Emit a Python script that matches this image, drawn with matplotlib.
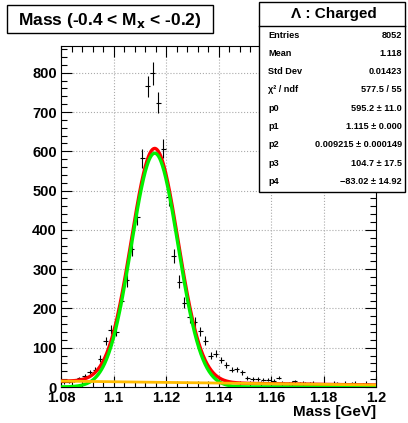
import matplotlib
matplotlib.use("Agg")
import matplotlib.pyplot as plt
from matplotlib.patches import Rectangle
from matplotlib.ticker import MultipleLocator, FormatStrFormatter
import numpy as np

# histogram: 60 bins from 1.08 to 1.2 GeV
bin_lo, bin_hi, n_bins = 1.08, 1.2, 60
counts = [12, 14, 17, 22, 28, 38, 44, 72, 117, 146,
          141, 220, 272, 352, 432, 582, 765, 798, 724, 607,
          483, 333, 268, 215, 177, 166, 142, 118, 79, 85,
          69, 56, 44, 45, 37, 23, 20, 20, 19, 19,
          16, 24, 10, 9, 15, 10, 10, 10, 7, 6,
          8, 6, 10, 7, 6, 9, 6, 8, 7, 6]

# drawn fit curve (gaus + pol1), shape
amp, mu, sigma = 595.2, 1.1157, 0.0089
bkg0, bkg1 = 104.7, -83.02

stat_names = ["Entries", "Mean", "Std Dev", "χ² / ndf", "p0", "p1", "p2", "p3", "p4"]
stat_values = ["8052", "1.118", "0.01423", "577.5 / 55", "595.2 ± 11.0",
               "1.115 ± 0.000", "0.009215 ± 0.000149", "104.7 ± 17.5",
               "−83.02 ± 14.92"]

W, H = 408, 423
plt.rcParams['font.family'] = ['Liberation Sans', 'DejaVu Sans']
fig = plt.figure(figsize=(W / 100, H / 100), dpi=100)
ax = fig.add_axes([61 / W, 1 - 387 / H, 315 / W, 341 / H])

width = (bin_hi - bin_lo) / n_bins
centers = bin_lo + width * (np.arange(n_bins) + 0.5)
y = np.array(counts, dtype=float)

ax.errorbar(centers, y, xerr=width / 2, yerr=np.sqrt(y), fmt='none',
            ecolor='black', elinewidth=0.8, capsize=0, zorder=3)

xs = np.linspace(bin_lo, bin_hi, 600)
gaus = amp * np.exp(-0.5 * ((xs - mu) / sigma) ** 2)
bkg = bkg0 + bkg1 * xs
ax.plot(xs, gaus + bkg, color='#ff0000', lw=2.4, zorder=4)
ax.plot(xs, gaus, color='#00f000', lw=2.4, zorder=5)
ax.plot(xs, bkg, color='#ffbb00', lw=2.0, zorder=6)

ax.set_xlim(bin_lo, bin_hi)
ax.set_ylim(0, 868)
ax.xaxis.set_major_locator(MultipleLocator(0.02))
ax.xaxis.set_minor_locator(MultipleLocator(0.004))
ax.yaxis.set_major_locator(MultipleLocator(100))
ax.yaxis.set_minor_locator(MultipleLocator(20))
ax.xaxis.set_major_formatter(FormatStrFormatter('%g'))
ax.tick_params(which='both', direction='in', top=True, right=True, width=0.8)
ax.tick_params(which='major', length=8, labelsize=10.5, pad=3)
ax.tick_params(which='minor', length=4)
for lab in ax.get_xticklabels() + ax.get_yticklabels():
    lab.set_fontweight('bold')
ax.grid(True, which='major', color='#aaaaaa', linestyle=':', lw=0.8)
ax.set_axisbelow(True)
for s in ax.spines.values():
    s.set_linewidth(0.8)

ax.set_xlabel("Mass [GeV]", fontsize=11, fontweight='bold', loc='right', labelpad=0)

# title box
fig.add_artist(Rectangle((7 / W, 1 - 33 / H), 206 / W, 28 / H, transform=fig.transFigure,
                         facecolor='white', edgecolor='black', lw=1.0, zorder=10))
fig.text(110 / W, 1 - 20 / H, "Mass (-0.4 < M$_{\\mathbf{x}}$ < -0.2)", ha='center', va='center',
         fontsize=12.5, fontweight='bold', zorder=11)

# stats box
bx0, by0, bx1, by1 = 259, 2, 405, 192
fig.add_artist(Rectangle((bx0 / W, 1 - by1 / H), (bx1 - bx0) / W, (by1 - by0) / H,
                         transform=fig.transFigure, facecolor='white', edgecolor='black',
                         lw=1.0, zorder=10))
fig.add_artist(plt.Line2D([bx0 / W, bx1 / W], [1 - 26 / H, 1 - 26 / H],
                          transform=fig.transFigure, color='black', lw=1.0, zorder=11))
fig.text(334 / W, 1 - 14 / H, "Λ : Charged", ha='center', va='center',
         fontsize=11, fontweight='bold', zorder=11)
for k, (name, val) in enumerate(zip(stat_names, stat_values)):
    yy = 1 - (35 + 18.3 * k) / H
    fig.text(268 / W, yy, name, ha='left', va='center', fontsize=6.6,
             fontweight='bold', zorder=11)
    fig.text(402 / W, yy, val, ha='right', va='center', fontsize=6.6,
             fontweight='bold', zorder=11)

fig.savefig("out.png", dpi=100)
